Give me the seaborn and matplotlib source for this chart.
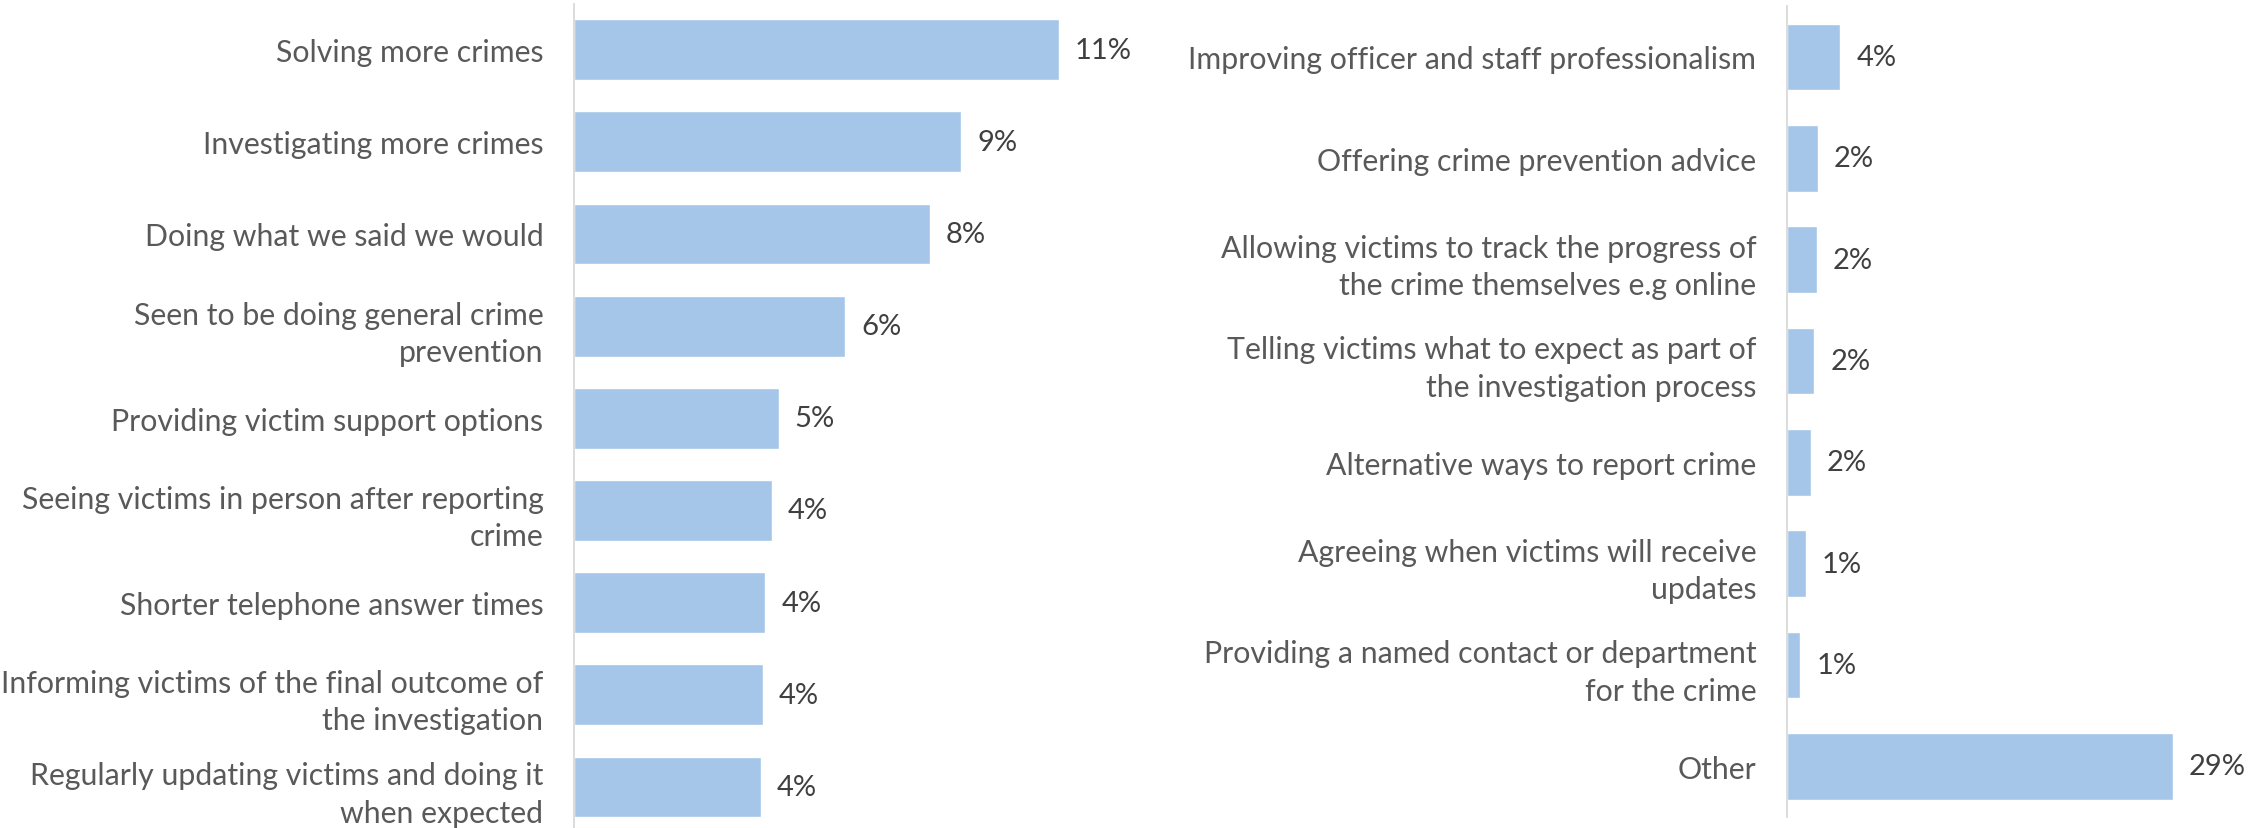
import matplotlib
matplotlib.use("Agg")
import matplotlib.pyplot as plt
import seaborn as sns
import pandas as pd

# left panel
left_labels = [
    "Solving more crimes",
    "Investigating more crimes",
    "Doing what we said we would",
    "Seen to be doing general crime\nprevention",
    "Providing victim support options",
    "Seeing victims in person after reporting\ncrime",
    "Shorter telephone answer times",
    "Informing victims of the final outcome of\nthe investigation",
    "Regularly updating victims and doing it\nwhen expected",
]
left_values = [10.9, 8.7, 8.0, 6.1, 4.6, 4.45, 4.3, 4.25, 4.2]

# right panel
right_labels = [
    "Improving officer and staff professionalism",
    "Offering crime prevention advice",
    "Allowing victims to track the progress of\nthe crime themselves e.g online",
    "Telling victims what to expect as part of\nthe investigation process",
    "Alternative ways to report crime",
    "Agreeing when victims will receive\nupdates",
    "Providing a named contact or department\nfor the crime",
    "Other",
]
right_values = [4.0, 2.3, 2.25, 2.05, 1.8, 1.4, 1.0, 29.0]

bar_col = "#a5c6e8"
txt_col = "#595959"

sns.set_theme(style="white")
plt.rcParams["font.family"] = ["Lato", "DejaVu Sans"]

W, H = 2253, 829
fig = plt.figure(figsize=(W / 100, H / 100), dpi=100)

# axes placed in pixel terms
ax1 = fig.add_axes([574 / W, (H - 834) / H, (1150 - 574) / W, 829.4 / H])
ax2 = fig.add_axes([1787 / W, (H - 818) / H, (W - 1787) / W, 810.7 / H])


def draw(ax, labels, values, xmax):
    df = pd.DataFrame({"lab": labels, "val": values})
    sns.barplot(data=df, x="val", y="lab", ax=ax, color=bar_col,
                saturation=1, width=0.66, orient="h")
    ax.set_xlim(0, xmax)
    ax.set_ylim(len(labels) - 0.5, -0.5)
    ax.set_xlabel("")
    ax.set_ylabel("")
    ax.set_xticks([])
    for s in ["top", "right", "bottom"]:
        ax.spines[s].set_visible(False)
    ax.spines["left"].set_color("#d9d9d9")
    ax.spines["left"].set_linewidth(1.3)
    ax.tick_params(axis="y", length=0, pad=22, labelsize=21.8, labelcolor=txt_col)
    for t in ax.get_yticklabels():
        t.set_linespacing(1.4)
    ax.bar_label(ax.containers[0], labels=[f"{v:.0f}%" for v in values],
                 padding=11.5, fontsize=21, color="#404040")
    ax.patch.set_alpha(0)


draw(ax1, left_labels, left_values, (1150 - 574) / 44.5)
draw(ax2, right_labels, right_values, (W - 1787) / 13.3)

fig.savefig("out.png", dpi=100)
